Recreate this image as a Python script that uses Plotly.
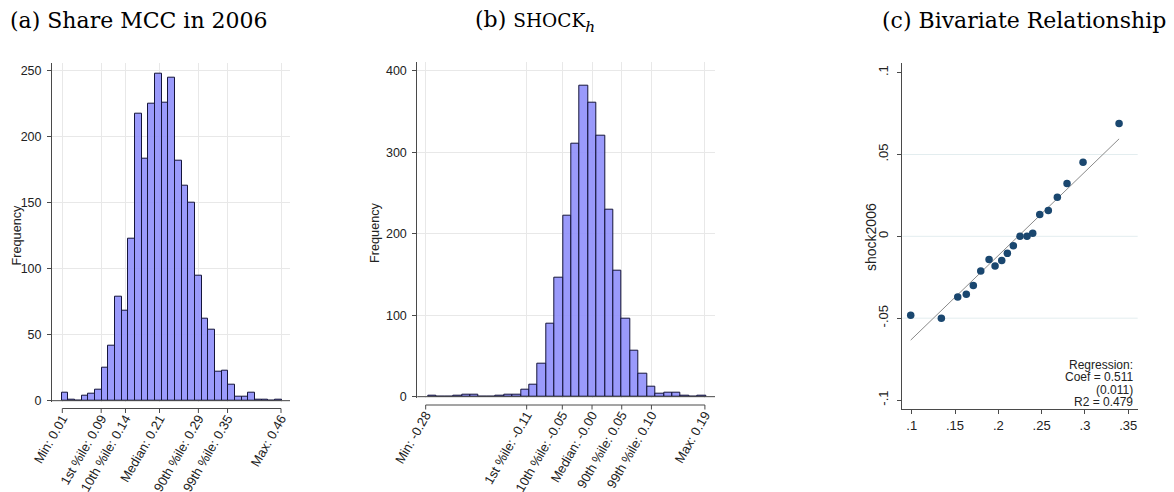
import plotly.graph_objects as go

W, H = 1174, 492
PAGE_OFFSET = 8  # the page body margin shifts the figure by 8px

# (a) Share MCC in 2006: histogram counts, 33 equal bins
share_bin_start = 0.0088
share_bin_width = 0.01372
share_counts = [6, 1, 0, 4, 5, 8, 25, 42, 79, 68, 123, 217, 183, 225, 248, 226,
                245, 182, 163, 150, 95, 62, 54, 22, 23, 12, 3, 3, 6, 1, 1, 0, 1]
share_tickvals = [0.01, 0.09, 0.14, 0.21, 0.29, 0.35, 0.46]
share_ticktext = ["Min: 0.01", "1st %ile: 0.09", "10th %ile: 0.14", "Median: 0.21",
                  "90th %ile: 0.29", "99th %ile: 0.35", "Max: 0.46"]

# (b) shock_h: histogram counts, 33 equal bins
shock_bin_start = -0.2756
shock_bin_width = 0.014158
shock_counts = [1, 0, 0, 1, 2, 2, 0, 0, 1, 2, 2, 9, 15, 41, 90, 146, 222, 311, 381,
                361, 320, 229, 155, 96, 57, 28, 12, 4, 5, 5, 1, 0, 1]
shock_tickvals = [-0.28, -0.11, -0.05, 0.0, 0.05, 0.10, 0.19]
shock_ticktext = ["Min: -0.28", "1st %ile: -0.11", "10th %ile: -0.05", "Median: -0.00",
                  "90th %ile: 0.05", "99th %ile: 0.10", "Max: 0.19"]

freq_ticks_a = [0, 50, 100, 150, 200, 250]
freq_ticks_b = [0, 100, 200, 300, 400]

# (c) binned scatter of shock2006 on share MCC
bin_x = [0.0988, 0.1342, 0.1531, 0.1630, 0.1711, 0.1797, 0.1893, 0.1962, 0.2039, 0.2104,
         0.2173, 0.2250, 0.2331, 0.2397, 0.2478, 0.2577, 0.2681, 0.2793, 0.2978, 0.3394]
bin_y = [-0.0483, -0.0501, -0.0371, -0.0354, -0.0301, -0.0212, -0.0142, -0.0181, -0.0147,
         -0.0104, -0.0057, 0.0000, 0.0000, 0.0018, 0.0134, 0.0157, 0.0238, 0.0322, 0.0452,
         0.0689]
fit_coef = 0.511
fit_intercept = -0.1139
reg_lines = ["Regression:", "Coef = 0.511", "(0.011)", "R2 = 0.479"]
c_xticks = [0.10, 0.15, 0.20, 0.25, 0.30, 0.35]
c_xtext = [".1", ".15", ".2", ".25", ".3", ".35"]
c_yticks = [-0.10, -0.05, 0.0, 0.05, 0.10]
c_ytext = ["-.1", "-.05", "0", ".05", ".1"]
c_grid = [-0.05, 0.0, 0.05]


def px(p):
    return (p - PAGE_OFFSET) / W


def py(p):
    return 1 - (p - PAGE_OFFSET) / H


SANS = "Liberation Sans"
SERIF = "DejaVu Serif"
TXT = "#222222"
AXIS = "#4a4a4a"
GRID = "#e8e8e8"
BAR_FILL = "rgba(140,140,250,0.88)"
BAR_LINE = "#15153a"


def centers(start, width, n):
    return [start + width * (i + 0.5) for i in range(n)]


fig = go.Figure()

fig.add_trace(go.Bar(
    x=centers(share_bin_start, share_bin_width, len(share_counts)),
    y=share_counts, width=share_bin_width,
    marker=dict(color=BAR_FILL, line=dict(color=BAR_LINE, width=1)),
    xaxis="x", yaxis="y", showlegend=False,
))
fig.add_trace(go.Bar(
    x=centers(shock_bin_start, shock_bin_width, len(shock_counts)),
    y=shock_counts, width=shock_bin_width,
    marker=dict(color=BAR_FILL, line=dict(color=BAR_LINE, width=1)),
    xaxis="x2", yaxis="y2", showlegend=False,
))

# fitted line through the binned points
x_lo, x_hi = min(bin_x), max(bin_x)
fig.add_trace(go.Scatter(
    x=[x_lo, x_hi], y=[fit_intercept + fit_coef * x_lo, fit_intercept + fit_coef * x_hi],
    mode="lines", line=dict(color="#8a8a8a", width=1),
    xaxis="x3", yaxis="y3", showlegend=False,
))
fig.add_trace(go.Scatter(
    x=bin_x, y=bin_y, mode="markers",
    marker=dict(color="#1a476f", size=7.5),
    xaxis="x3", yaxis="y3", showlegend=False,
))

# histogram x axes: tick marks and axis line are drawn as shapes below,
# the axis itself only carries gridlines and the angled labels
hist_x = dict(anchor="free", tickangle=-60, ticks="", showline=False, showgrid=True,
              gridcolor=GRID, zeroline=False, tickmode="array", automargin=False,
              tickfont=dict(family=SANS, size=13, color=TXT))
hist_y = dict(ticks="outside", ticklen=4, tickcolor=AXIS, showline=True, linecolor=AXIS,
              showgrid=True, gridcolor=GRID, zeroline=False, tickmode="array",
              automargin=False, ticklabelstandoff=3,
              tickfont=dict(family=SANS, size=12.5, color=TXT))
c_font = dict(family=SANS, size=13, color=TXT)

line_a = 408.5
line_b = 405.0

fig.update_layout(
    xaxis=dict(hist_x, domain=[px(52), px(290)], position=py(line_a - 1),
               range=[-0.0112, 0.4785], tickvals=share_tickvals, ticktext=share_ticktext),
    yaxis=dict(hist_y, domain=[py(402.0), py(62.7)], anchor="x", range=[-1, 256],
               tickvals=freq_ticks_a),
    xaxis2=dict(hist_x, domain=[px(417.3), px(715)], position=py(line_b - 1),
                range=[-0.2941, 0.207], tickvals=shock_tickvals, ticktext=shock_ticktext),
    yaxis2=dict(hist_y, domain=[py(397.9), py(61.7)], anchor="x2", range=[-1.5, 411],
                tickvals=freq_ticks_b),
    xaxis3=dict(domain=[px(902.3), px(1137.7)], anchor="y3", range=[0.0891, 0.3609],
                tickmode="array", tickvals=c_xticks, ticktext=c_xtext, ticks="outside",
                ticklen=4, tickcolor=AXIS, showline=True, linecolor=AXIS, showgrid=False,
                zeroline=False, automargin=False, tickfont=c_font),
    yaxis3=dict(domain=[py(409), py(63.3)], anchor="x3", range=[-0.1055, 0.1057],
                tickmode="array", tickvals=c_yticks, ticktext=c_ytext, tickangle=-90,
                ticks="outside", ticklen=4, tickcolor=AXIS, showline=True, linecolor=AXIS,
                showgrid=False, zeroline=False, automargin=False, ticklabelstandoff=4,
                tickfont=c_font),
    width=W, height=H,
    margin=dict(l=0, r=0, t=0, b=0),
    paper_bgcolor="white", plot_bgcolor="white",
    bargap=0, showlegend=False,
)

shapes = [
    # baseline of each histogram
    dict(type="line", xref="x domain", yref="y", x0=0, x1=1, y0=0, y1=0,
         line=dict(color=AXIS, width=1)),
    dict(type="line", xref="x2 domain", yref="y2", x0=0, x1=1, y0=0, y1=0,
         line=dict(color=AXIS, width=1)),
]
# offset x-axis lines spanning min..max, with downward tick marks
for xr, vals, ly in (("x", share_tickvals, line_a), ("x2", shock_tickvals, line_b)):
    shapes.append(dict(type="line", xref=xr, yref="paper", x0=vals[0], x1=vals[-1],
                       y0=py(ly), y1=py(ly), line=dict(color=AXIS, width=1)))
    for v in vals:
        shapes.append(dict(type="line", xref=xr, yref="paper", x0=v, x1=v,
                           y0=py(ly), y1=py(ly + 4.5), line=dict(color=AXIS, width=1)))
for g in c_grid:
    shapes.append(dict(type="line", xref="x3 domain", yref="y3", x0=0, x1=1, y0=g, y1=g,
                       layer="below", line=dict(color="#e3edef", width=1)))
fig.update_layout(shapes=shapes)

title_font = dict(family=SERIF, size=22, color="black")
annotations = [
    dict(text="(a) Share MCC in 2006", x=px(8), y=py(20), xanchor="left"),
    dict(text="(b) <span style='font-size:18.5px'>SHOCK</span><sub><i>h</i></sub>",
         x=px(473), y=py(21.5), xanchor="left"),
    dict(text="(c) Bivariate Relationship", x=px(880), y=py(20), xanchor="left"),
]
for a in annotations:
    a.update(font=title_font)

annotations += [
    dict(text="Frequency", x=px(16.5), y=py(235), textangle=-90,
         font=dict(family=SANS, size=12.7, color=TXT)),
    dict(text="Frequency", x=px(375), y=py(233), textangle=-90,
         font=dict(family=SANS, size=12.7, color=TXT)),
    dict(text="shock2006", x=px(871), y=py(237), textangle=-90,
         font=dict(family=SANS, size=14, color=TXT)),
]
for i, line in enumerate(reg_lines):
    annotations.append(dict(text=line, x=px(1135), y=py(365 + 12.3 * i), xanchor="right",
                            font=dict(family=SANS, size=12, color=TXT)))
for a in annotations:
    a.setdefault("xref", "paper")
    a.setdefault("yref", "paper")
    a.setdefault("showarrow", False)
    a.setdefault("xanchor", "center")
    a.setdefault("yanchor", "middle")
fig.update_layout(annotations=annotations)

fig.write_html("out.html")
